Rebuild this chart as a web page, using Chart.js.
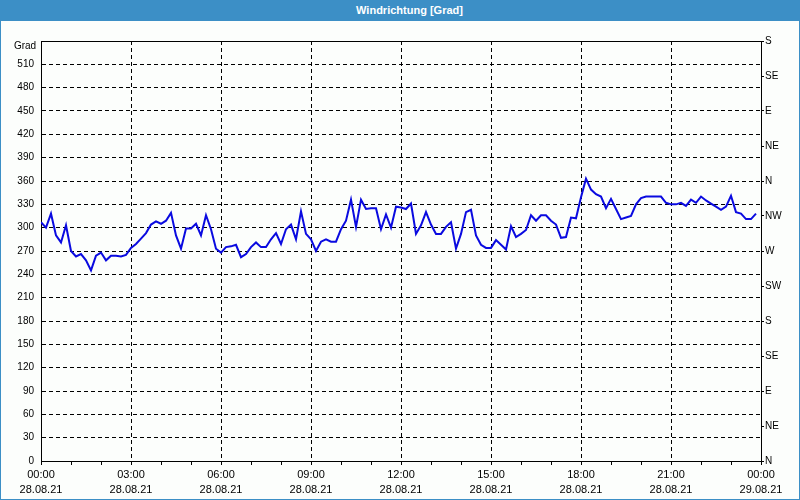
<!DOCTYPE html>
<html lang="de">
<head>
    <meta charset="UTF-8">
    <title>Windrichtung [Grad]</title>
    <script src="https://cdn.jsdelivr.net/npm/chart.js"></script>
    <style>
        body { margin: 0; background: #fff; }
        .frame {
            position: relative;
            width: 800px;
            height: 500px;
            box-sizing: border-box;
            border: 1px solid #3c8fc6;
            background: #fcfefc;
        }
        .header {
            position: absolute;
            left: -1px; top: -1px;
            width: 800px; height: 21px;
            background: #3c8fc6;
            color: #fff;
            font: bold 11px "Liberation Sans", sans-serif;
            line-height: 21px;
            text-align: center;
            padding-left: 19px;
            box-sizing: border-box;
        }
        .plot { position: absolute; left: 0; top: 20px; }
    </style>
</head>
<body>
    <div class="frame">
        <div class="header">Windrichtung [Grad]</div>
        <div class="plot"><canvas id="windChart" width="798" height="478"></canvas></div>
    </div>

    <script>
        // Windrichtung alle 10 Minuten ab 28.08.21 00:00
        const startMinute = 0;
        const stepMinutes = 10;
        const direction = [
            307, 300, 318, 290, 281, 303, 270, 263, 266, 258,
            245, 264, 268, 258, 264, 264, 263, 265, 274, 279,
            286, 293, 304, 308, 305, 309, 319, 290, 273, 299,
            299, 305, 290, 316, 298, 273, 268, 275, 276, 278,
            262, 266, 275, 281, 275, 275, 285, 293, 279, 298,
            304, 285, 321, 292, 285, 270, 282, 285, 282, 282,
            298, 309, 336, 301, 336, 324, 325, 325, 298, 317,
            300, 327, 326, 324, 331, 292, 303, 320, 304, 292,
            292, 301, 307, 273, 292, 320, 323, 290, 278, 274,
            274, 284, 278, 272, 302, 288, 292, 297, 316, 309,
            316, 316, 309, 304, 287, 288, 313, 312, 339, 363,
            349, 343, 340, 325, 337, 324, 311, 313, 315, 330,
            338, 340, 340, 340, 340, 332, 330, 330, 332, 328,
            336, 332, 340, 335, 331, 327, 323, 327, 341, 320,
            318, 311, 311, 318
        ];

        // Achsen
        const timeLabels = ['00:00', '03:00', '06:00', '09:00', '12:00', '15:00', '18:00', '21:00', '00:00'];
        const dateLabels = ['28.08.21', '28.08.21', '28.08.21', '28.08.21', '28.08.21', '28.08.21', '28.08.21', '28.08.21', '29.08.21'];
        const compassLabels = ['N', 'NE', 'E', 'SE', 'S', 'SW', 'W', 'NW', 'N', 'NE', 'E', 'SE', 'S'];

        const points = direction.map((v, i) => ({ x: startMinute + i * stepMinutes, y: v }));

        const labelFont = { family: '"Liberation Sans", sans-serif', size: 10 };

        const framePlugin = {
            id: 'frame',
            afterDraw(chart) {
                const { ctx, chartArea: a } = chart;
                ctx.save();
                ctx.fillStyle = '#000';
                ctx.fillRect(Math.round(a.left), Math.round(a.top), Math.round(a.right - a.left) + 1, 1);
                ctx.font = '10px "Liberation Sans", sans-serif';
                ctx.textAlign = 'center';
                ctx.textBaseline = 'middle';
                ctx.fillText('Grad', 24, 25);
                ctx.restore();
            }
        };

        new Chart(document.getElementById('windChart'), {
            type: 'line',
            data: {
                datasets: [{
                    data: points,
                    borderColor: '#0a0ae0',
                    borderWidth: 2,
                    pointRadius: 0,
                    tension: 0,
                    fill: false
                }]
            },
            options: {
                responsive: false,
                animation: false,
                layout: { padding: { top: 20, left: 0, right: 0, bottom: 0 } },
                plugins: { legend: { display: false }, tooltip: { enabled: false } },
                scales: {
                    x: {
                        type: 'linear',
                        min: 0,
                        max: 1440,
                        afterFit(s) { s.height = 38; },
                        afterBuildTicks(s) {
                            s.ticks = [];
                            for (let m = 0; m <= 1440; m += 60) s.ticks.push({ value: m });
                        },
                        grid: {
                            color: c => (c.tick && c.tick.value % 180 === 0) ? '#000' : 'transparent',
                            tickColor: '#000',
                            tickLength: 4,
                            lineWidth: 1
                        },
                        border: { color: '#000', width: 1, dash: [4, 3] },
                        ticks: {
                            autoSkip: false,
                            maxRotation: 0,
                            padding: 2,
                            color: '#000',
                            font: { family: '"Liberation Sans", sans-serif', size: 11, lineHeight: 1.364 },
                            callback: v => {
                                if (v % 180 !== 0) return '';
                                const k = v / 180;
                                return [timeLabels[k], dateLabels[k]];
                            }
                        }
                    },
                    y: {
                        position: 'left',
                        min: 0,
                        max: 540,
                        afterFit(s) { s.width = 40; },
                        grid: { color: '#000', drawTicks: false, lineWidth: 1 },
                        border: { color: '#000', width: 1, dash: [4, 3] },
                        ticks: {
                            stepSize: 30,
                            padding: 7,
                            color: '#000',
                            font: labelFont,
                            callback: v => v === 540 ? '' : v
                        }
                    },
                    y2: {
                        position: 'right',
                        min: 0,
                        max: 540,
                        afterFit(s) { s.width = 38; },
                        grid: { drawOnChartArea: false, drawTicks: true, tickLength: 3, tickColor: '#000' },
                        border: { color: '#000', width: 1 },
                        ticks: {
                            stepSize: 45,
                            padding: 1,
                            color: '#000',
                            font: labelFont,
                            callback: v => compassLabels[Math.round(v / 45)]
                        }
                    }
                }
            },
            plugins: [framePlugin]
        });
    </script>
</body>
</html>
